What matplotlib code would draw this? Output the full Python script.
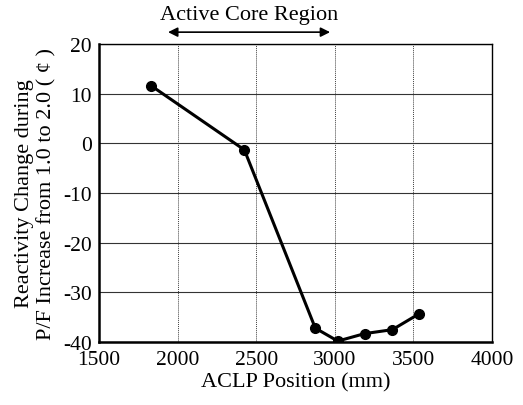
import matplotlib.pyplot as plt

plt.rcParams["font.family"] = ["Liberation Serif", "DejaVu Serif"]
plt.rcParams["axes.unicode_minus"] = False

# ACLP position (mm) and reactivity change (cents)
position = [1833, 2425, 2876, 3019, 3189, 3366, 3536]
reactivity = [11.6, -1.3, -37.2, -39.8, -38.3, -37.5, -34.3]

CORE_START = 1940
CORE_END = 2970

fig = plt.figure(figsize=(5.23, 4.06), dpi=100)
ax = fig.add_axes([0.189, 0.155, 0.752, 0.734])

ax.plot(position, reactivity, "-o", color="black", lw=2.2, markersize=7)

ax.set_xlim(1500, 4000)
ax.set_ylim(-40, 20)
ax.set_xticks(range(1500, 4001, 500))
ax.set_yticks(range(-40, 21, 10))
ax.grid(axis="x", color="0.25", lw=0.7, linestyle=(0, (1, 1)))
ax.grid(axis="y", color="0.2", lw=0.8)
ax.tick_params(length=0, labelsize=15.5)
ax.tick_params(axis="x", pad=6)
ax.tick_params(axis="y", pad=5)

for side in ["bottom", "left"]:
    ax.spines[side].set_linewidth(1.8)
for side in ["top", "right"]:
    ax.spines[side].set_linewidth(1.0)

ax.set_xlabel("ACLP Position (mm)", fontsize=16, labelpad=2)
ax.set_ylabel("Reactivity Change during\nP/F Increase from 1.0 to 2.0 ( ¢ )",
              fontsize=16, labelpad=5, linespacing=1.2)

trans = ax.get_xaxis_transform()
ax.annotate("", xy=(CORE_END, 1.04), xytext=(CORE_START, 1.04),
            xycoords=trans, textcoords=trans,
            arrowprops=dict(arrowstyle="<|-|>", color="black", lw=1.2,
                            mutation_scale=14, shrinkA=0, shrinkB=0),
            annotation_clip=False)
ax.text((CORE_START + CORE_END) / 2, 1.10, "Active Core Region",
        transform=trans, ha="center", va="center", fontsize=16)

fig.savefig("out.png", dpi=100)
